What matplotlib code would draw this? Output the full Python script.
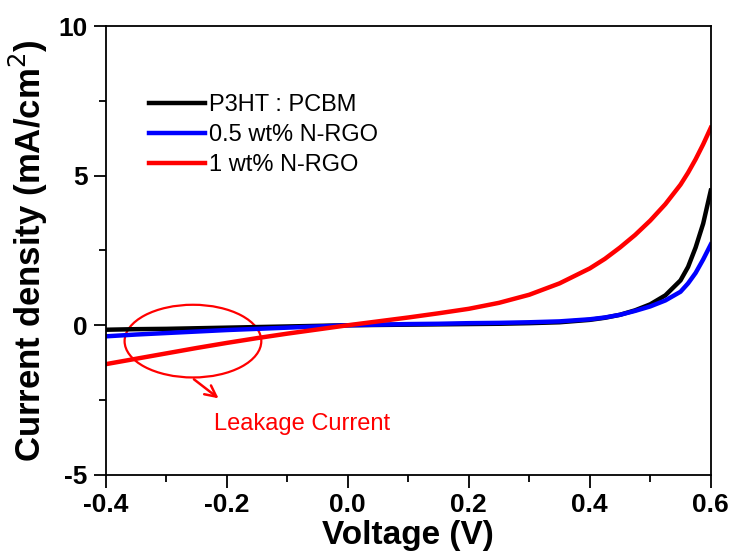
import matplotlib
matplotlib.use("Agg")
import matplotlib.pyplot as plt
from matplotlib.patches import Ellipse
from matplotlib.ticker import MultipleLocator, FormatStrFormatter

plt.rcParams['font.family'] = ['Liberation Sans', 'DejaVu Sans']
plt.rcParams['axes.unicode_minus'] = False

# J-V data
voltage = [-0.4, -0.35, -0.3, -0.25, -0.2, -0.15, -0.1, -0.05, 0.0, 0.05, 0.1, 0.15,
           0.2, 0.25, 0.3, 0.35, 0.4, 0.425, 0.45, 0.475, 0.5, 0.525, 0.55, 0.5625,
           0.575, 0.5875, 0.6]
j_p3ht = [-0.15, -0.13, -0.12, -0.1, -0.08, -0.06, -0.04, -0.02, 0.0, 0.01, 0.02, 0.03,
          0.04, 0.05, 0.07, 0.1, 0.18, 0.25, 0.35, 0.5, 0.7, 1.0, 1.5, 1.95,
          2.6, 3.4, 4.5]
j_05 = [-0.37, -0.31, -0.26, -0.21, -0.16, -0.12, -0.08, -0.04, 0.0, 0.02, 0.04, 0.05,
        0.07, 0.08, 0.1, 0.13, 0.2, 0.26, 0.35, 0.48, 0.63, 0.83, 1.12, 1.4,
        1.75, 2.2, 2.7]
j_1 = [-1.3, -1.12, -0.94, -0.76, -0.59, -0.43, -0.28, -0.14, 0.0, 0.13, 0.26, 0.4,
       0.55, 0.75, 1.02, 1.4, 1.9, 2.22, 2.6, 3.02, 3.5, 4.05, 4.7, 5.1,
       5.55, 6.05, 6.6]
labels = ["P3HT : PCBM", "0.5 wt% N-RGO", "1 wt% N-RGO"]

fig = plt.figure(figsize=(7.35, 5.56), dpi=100)
ax = fig.add_axes([0.144, 0.146, 0.823, 0.807])

ax.plot(voltage, j_p3ht, color="black", lw=3.2, label=labels[0])
ax.plot(voltage, j_05, color="#0000ff", lw=3.2, label=labels[1])
ax.plot(voltage, j_1, color="#ff0000", lw=3.2, label=labels[2])

ax.set_xlim(-0.4, 0.6)
ax.set_ylim(-5, 10)
ax.xaxis.set_major_locator(MultipleLocator(0.2))
ax.xaxis.set_minor_locator(MultipleLocator(0.1))
ax.yaxis.set_major_locator(MultipleLocator(5))
ax.yaxis.set_minor_locator(MultipleLocator(2.5))
ax.xaxis.set_major_formatter(FormatStrFormatter('%.1f'))
ax.tick_params(which="major", direction="out", length=9, width=1.3, labelsize=19, pad=4)
ax.tick_params(which="minor", direction="out", length=5, width=1.3)
for lab in ax.get_xticklabels() + ax.get_yticklabels():
    lab.set_fontweight("bold")
for sp in ax.spines.values():
    sp.set_linewidth(1.3)

ax.set_xlabel("Voltage (V)", fontsize=24, fontweight="bold", labelpad=2)
ax.set_ylabel("Current density (mA/cm$^2$)", fontsize=25, fontweight="bold", labelpad=6)

# leakage annotation
ax.add_patch(Ellipse((-0.256, -0.53), 0.226, 2.43, fill=False, edgecolor="#ff0000", lw=1.6))
ax.annotate("", xy=(-0.21, -2.5), xytext=(-0.258, -1.75),
            arrowprops=dict(arrowstyle="->", color="#ff0000", lw=1.8, mutation_scale=20))
ax.text(-0.222, -3.3, "Leakage Current", color="#ff0000", fontsize=17, va="center", ha="left")

ax.legend(loc="upper left", bbox_to_anchor=(0.055, 0.87), frameon=False, fontsize=17,
          handlelength=2.4, handletextpad=0.15, labelspacing=0.35, borderaxespad=0)

fig.savefig("out.png", dpi=100)
